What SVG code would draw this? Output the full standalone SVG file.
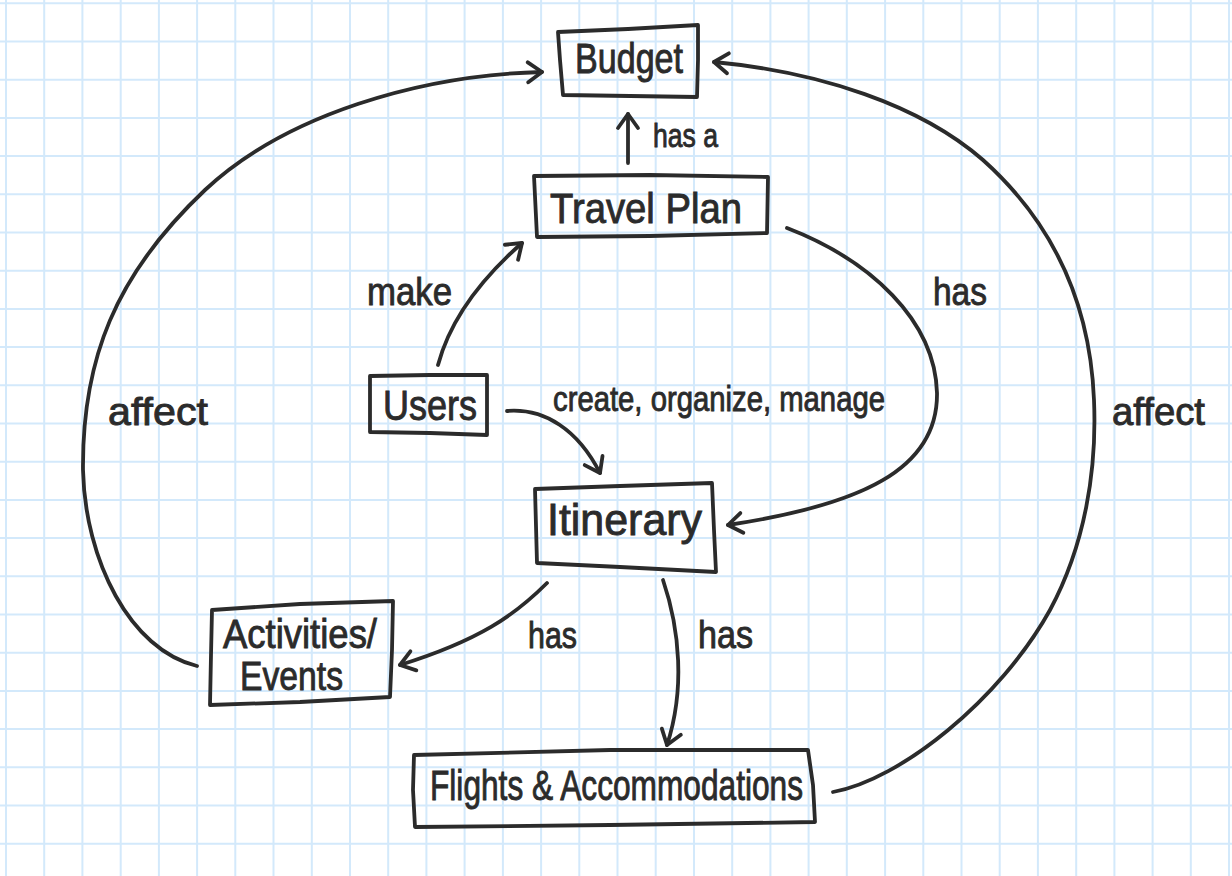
<svg xmlns="http://www.w3.org/2000/svg" width="1232" height="876" viewBox="0 0 1232 876">
<style>
.grid{stroke:#d3e9fb;stroke-width:2;fill:none}
.box{fill:none;stroke:#2b2b2b;stroke-width:3.8;stroke-linejoin:round;stroke-linecap:round}
.edge{fill:none;stroke:#2b2b2b;stroke-width:3.8;stroke-linecap:round;stroke-linejoin:round}
.t{font-family:"Liberation Sans",Arial,sans-serif;fill:#2b2b2b;stroke:#2b2b2b;stroke-width:0.9}
</style>
<defs>
<marker id="arr" markerUnits="userSpaceOnUse" markerWidth="22" markerHeight="26" viewBox="0 0 22 26" refX="18" refY="13" orient="auto">
<path d="M4,3 L18,13 L4,23" fill="none" stroke="#2b2b2b" stroke-width="3.8" stroke-linecap="round" stroke-linejoin="round"/>
</marker>
</defs>
<rect width="1232" height="876" fill="#ffffff"/>
<path class="grid" d="M6,0V876M44.2,0V876M82.4,0V876M120.7,0V876M158.9,0V876M197.1,0V876M235.3,0V876M273.5,0V876M311.8,0V876M350,0V876M388.2,0V876M426.4,0V876M464.6,0V876M502.9,0V876M541.1,0V876M579.3,0V876M617.5,0V876M655.7,0V876M694,0V876M732.2,0V876M770.4,0V876M808.6,0V876M846.8,0V876M885.1,0V876M923.3,0V876M961.5,0V876M999.7,0V876M1037.9,0V876M1076.2,0V876M1114.4,0V876M1152.6,0V876M1190.8,0V876M1229,0V876
M0,3.3H1232M0,41.5H1232M0,79.7H1232M0,117.9H1232M0,156.1H1232M0,194.3H1232M0,232.5H1232M0,270.7H1232M0,308.9H1232M0,347.1H1232M0,385.3H1232M0,423.5H1232M0,461.7H1232M0,499.9H1232M0,538.1H1232M0,576.3H1232M0,614.5H1232M0,652.7H1232M0,690.9H1232M0,729.1H1232M0,767.3H1232M0,805.5H1232M0,843.7H1232"/>

<g id="connectors">
<path id="e-travel-budget" class="edge" d="M628,163 L628,114" marker-end="url(#arr)"/>
<path id="e-users-travel" class="edge" d="M438,365 C 450,320 480,280 522,243" marker-end="url(#arr)"/>
<path id="e-users-itin" class="edge" d="M507,411 C 545,408 578,430 600,473" marker-end="url(#arr)"/>
<path id="e-travel-itin" class="edge" d="M787,228 C 870,260 935,320 937,393 C 938,470 860,505 728,525" marker-end="url(#arr)"/>
<path id="e-itin-act" class="edge" d="M547,583 C 515,615 480,640 400,665" marker-end="url(#arr)"/>
<path id="e-itin-fl" class="edge" d="M663,580 C 680,630 685,690 667,745" marker-end="url(#arr)"/>
<path id="e-act-budget" class="edge" d="M197,666 C 130,650 85,560 83,470 C 82,360 115,275 205,190 C 285,115 420,75 542,72" marker-end="url(#arr)"/>
<path id="e-fl-budget" class="edge" d="M833,792 C 900,780 1000,700 1050,610 C 1085,545 1097,470 1094,400 C 1090,300 1050,220 983,160 C 920,105 820,72 714,62" marker-end="url(#arr)"/>
<text class="t" x="653" y="147" font-size="34" textLength="65" lengthAdjust="spacingAndGlyphs">has a</text>
<text class="t" x="367" y="305" font-size="39" textLength="85" lengthAdjust="spacingAndGlyphs">make</text>
<text class="t" x="933" y="305" font-size="39" textLength="54" lengthAdjust="spacingAndGlyphs">has</text>
<text class="t" x="108" y="425" font-size="39" textLength="100" lengthAdjust="spacingAndGlyphs">affect</text>
<text class="t" x="1112" y="425" font-size="39" textLength="93" lengthAdjust="spacingAndGlyphs">affect</text>
<text class="t" x="553" y="411" font-size="35" textLength="332" lengthAdjust="spacingAndGlyphs">create, organize, manage</text>
<text class="t" x="528" y="648" font-size="36" textLength="49" lengthAdjust="spacingAndGlyphs">has</text>
<text class="t" x="698" y="648" font-size="38" textLength="55" lengthAdjust="spacingAndGlyphs">has</text>
</g>

<g id="budget">
<path class="box" d="M558,32 L628,29 L698,25 L698,60 L697,97 L630,96 L563,95 L560,60 Z"/>
<text class="t" x="575" y="73" font-size="42" textLength="108" lengthAdjust="spacingAndGlyphs">Budget</text>
</g>
<g id="travel-plan">
<path class="box" d="M534,176 L650,175 L768,177 L767,233 L650,236 L537,237 Z"/>
<text class="t" x="550" y="223" font-size="42" textLength="192" lengthAdjust="spacingAndGlyphs">Travel Plan</text>
</g>
<g id="users">
<path class="box" d="M370,376 L430,375 L487,375 L487,435 L430,433 L370,432 Z"/>
<text class="t" x="383" y="420" font-size="42" textLength="94" lengthAdjust="spacingAndGlyphs">Users</text>
</g>
<g id="itinerary">
<path class="box" d="M535,489 L620,486 L712,483 L714,530 L716,572 L620,567 L537,563 Z"/>
<text class="t" x="547" y="535" font-size="44" textLength="155" lengthAdjust="spacingAndGlyphs">Itinerary</text>
</g>
<g id="activities">
<path class="box" d="M212,610 L300,604 L393,601 L392,650 L390,697 L300,702 L210,705 L211,655 Z"/>
<text class="t" x="223" y="648" font-size="41" textLength="154" lengthAdjust="spacingAndGlyphs">Activities/</text>
<text class="t" x="240" y="690" font-size="40" textLength="103" lengthAdjust="spacingAndGlyphs">Events</text>
</g>
<g id="flights">
<path class="box" d="M414,755 L610,750 L808,750 L813,785 L815,822 L610,825 L415,827 L413,790 Z"/>
<text class="t" x="430" y="800" font-size="42" textLength="373" lengthAdjust="spacingAndGlyphs">Flights &amp; Accommodations</text>
</g>
</svg>
